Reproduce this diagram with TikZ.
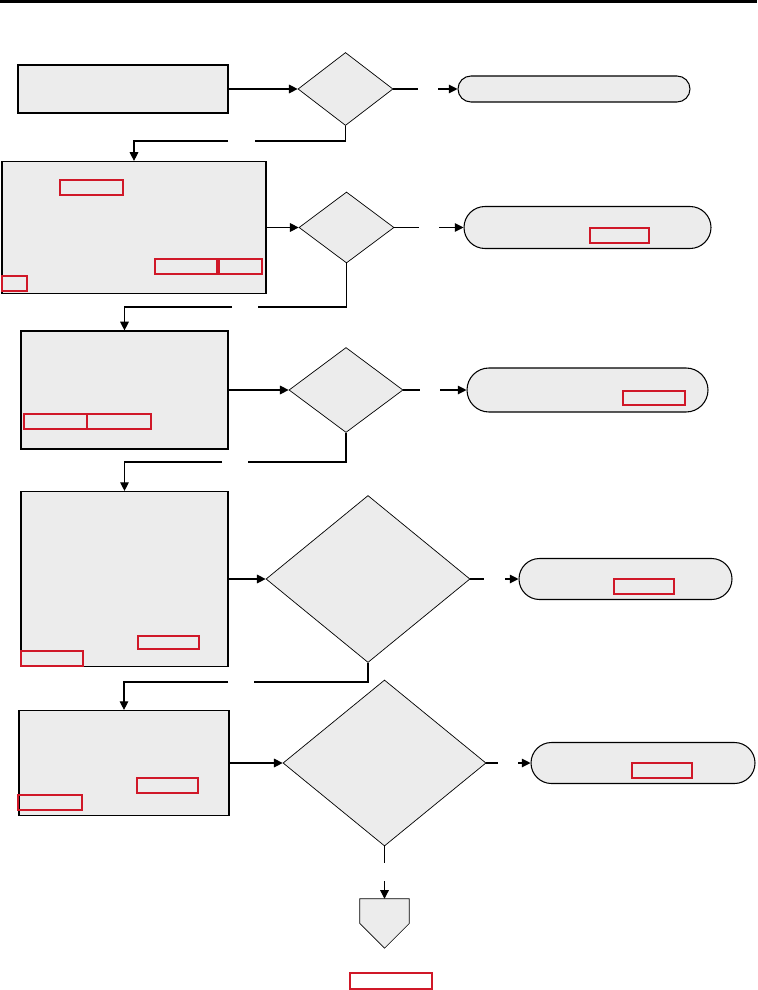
\documentclass[tikz,border=0pt]{standalone}
\usetikzlibrary{shapes.geometric, shapes.misc, arrows.meta, positioning}
\definecolor{boxgray}{RGB}{236,236,236}
\definecolor{linkred}{RGB}{208,24,40}
\tikzset{dims/.style 2 args={minimum width=#1*0.03cm, minimum height=#2*0.03cm}}
\tikzstyle{process} = [rectangle, draw=black, fill=boxgray, line width=1pt, inner sep=0pt]
\tikzstyle{decision} = [diamond, draw=black, fill=boxgray, line width=0.6pt, inner sep=0pt]
\tikzstyle{terminal} = [rounded rectangle, draw=black, fill=boxgray, line width=0.9pt, inner sep=0pt]
\tikzstyle{linkbox} = [rectangle, draw=linkred, line width=0.9pt, inner sep=0pt]
\tikzstyle{wire} = [line width=0.9pt]
\tikzstyle{arrow} = [line width=0.9pt, -{Triangle[length=2.6mm, width=2.6mm]}]

\begin{document}
\begin{tikzpicture}[x=0.03cm, y=-0.03cm]
\useasboundingbox (0,0) rectangle (757,990);
\fill (0,0) rectangle (757,3);

\node (box1) [process, dims={210}{48}] at (123,89) {};
\node (dec1) [decision, dims={95}{73}] at (345.5,89) {};
\node (term1) [terminal, dims={232}{26}] at (574,89) {};

\node (box2) [process, dims={264}{132}] at (134,227.5) {};
\node (dec2) [decision, dims={95}{71}] at (346.5,227.5) {};
\node (term2) [terminal, dims={247}{42}] at (587.5,227.5) {};

\node (box3) [process, dims={207}{118}] at (124.5,390) {};
\node (dec3) [decision, dims={114}{85}] at (346,390) {};
\node (term3) [terminal, dims={241}{44}] at (587.5,390) {};

\node (box4) [process, dims={207}{175}] at (124.5,579) {};
\node (dec4) [decision, dims={204}{167}] at (368,579) {};
\node (term4) [terminal, dims={213}{41}] at (625.5,579) {};

\node (box5) [process, dims={210}{105}] at (124,763) {};
\node (dec5) [decision, dims={203}{166}] at (384.5,763) {};
\node (term5) [terminal, dims={224}{41}] at (643,763) {};

\node (offpage) [dims={49}{49}, inner sep=0pt] at (384.5,923.5) {};
\filldraw[fill=boxgray, line width=0.6pt] (offpage.north west) -- (offpage.north east) -- (offpage.east) -- (offpage.south) -- (offpage.west) -- cycle;

\node (l2a) [linkbox, dims={63}{15}] at (91.5,187.5) {};
\node (l2b) [linkbox, dims={62}{15}] at (186,266.5) {};
\node (l2c) [linkbox, dims={43}{15}] at (240.5,266.5) {};
\node (l2d) [linkbox, dims={25}{15}] at (14.5,283.5) {};
\node (l2e) [linkbox, dims={59}{15}] at (619.5,235.5) {};

\node (l3a) [linkbox, dims={63}{15}] at (55.5,421.5) {};
\node (l3b) [linkbox, dims={64}{15}] at (119,421.5) {};
\node (l3c) [linkbox, dims={62}{14}] at (654,398) {};

\node (l4a) [linkbox, dims={61}{13}] at (168.5,642.5) {};
\node (l4b) [linkbox, dims={62}{15}] at (52,658.5) {};
\node (l4c) [linkbox, dims={60}{15}] at (644,586.5) {};

\node (l5a) [linkbox, dims={61}{15}] at (167.5,785.5) {};
\node (l5b) [linkbox, dims={64}{15}] at (50,802.5) {};
\node (l5c) [linkbox, dims={60}{15}] at (662,770.5) {};

\node (l6) [linkbox, dims={82}{16}] at (391,981) {};

\coordinate (r1a) at (418,89);
\coordinate (r1b) at (438,89);
\coordinate (d1a) at (255,141);
\coordinate (d1b) at (228,141);

\coordinate (r2a) at (419,227.5);
\coordinate (r2b) at (439,227.5);
\coordinate (d2a) at (258,307);
\coordinate (d2b) at (232,307);

\coordinate (r3a) at (420,390);
\coordinate (r3b) at (440,390);
\coordinate (d3a) at (248,462);
\coordinate (d3b) at (222,462);

\coordinate (r4a) at (484,579);
\coordinate (r4b) at (505,579);
\coordinate (d4a) at (254,682);
\coordinate (d4b) at (228,682);

\coordinate (r5a) at (498,763);
\coordinate (r5b) at (518,763);
\coordinate (d5a) at (384.5,863);
\coordinate (d5b) at (384.5,881);

\draw[arrow] (box1.east) -- (dec1.west);
\draw[wire] (dec1.east) -- (r1a);
\draw[arrow] (r1b) -- (term1.west);
\draw[wire] (dec1.south) |- (d1a);
\draw[arrow] (d1b) -| (box2.north);

\draw[arrow] (box2.east) -- (dec2.west);
\draw[wire] (dec2.east) -- (r2a);
\draw[arrow] (r2b) -- (term2.west);
\draw[wire] (dec2.south) |- (d2a);
\draw[arrow] (d2b) -| (box3.north);

\draw[arrow] (box3.east) -- (dec3.west);
\draw[wire] (dec3.east) -- (r3a);
\draw[arrow] (r3b) -- (term3.west);
\draw[wire] (dec3.south) |- (d3a);
\draw[arrow] (d3b) -| (box4.north);

\draw[arrow] (box4.east) -- (dec4.west);
\draw[wire] (dec4.east) -- (r4a);
\draw[arrow] (r4b) -- (term4.west);
\draw[wire] (dec4.south) |- (d4a);
\draw[arrow] (d4b) -| (box5.north);

\draw[arrow] (box5.east) -- (dec5.west);
\draw[wire] (dec5.east) -- (r5a);
\draw[arrow] (r5b) -- (term5.west);
\draw[wire] (dec5.south) -- (d5a);
\draw[arrow] (d5b) -- (offpage.north);

\end{tikzpicture}
\end{document}
